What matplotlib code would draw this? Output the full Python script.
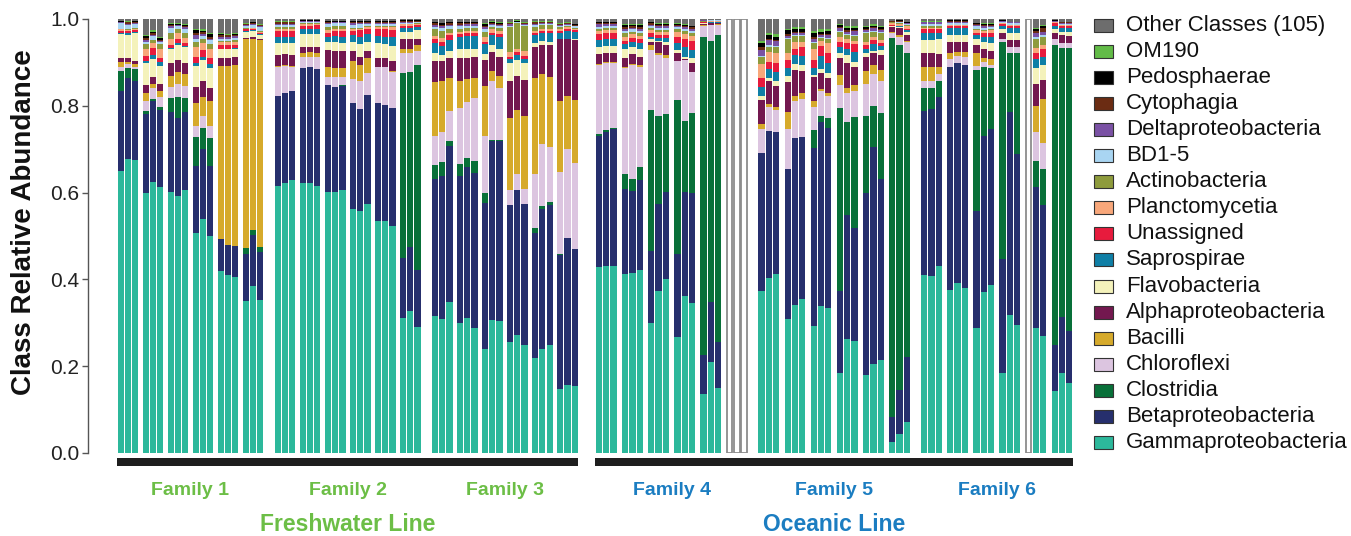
import matplotlib
matplotlib.use("Agg")
import matplotlib.pyplot as plt
from matplotlib.patches import Rectangle
import numpy as np

plt.rcParams['font.family'] = ['Liberation Sans', 'DejaVu Sans']

# ---------------------------------------------------------------------------
# Relative abundance per sample: 6 families x 6 groups x 3 replicates = 108
# (one line per family, 18 samples each)
# ---------------------------------------------------------------------------
gamma = [
    .650, .677, .674, .598, .624, .612, .602, .593, .606, .506, .539, .501, .420, .409, .406, .350, .385, .352,
    .616, .621, .629, .621, .623, .616, .601, .601, .606, .562, .558, .574, .535, .535, .523, .310, .328, .290,
    .316, .309, .347, .300, .310, .289, .240, .306, .303, .255, .272, .250, .218, .239, .249, .147, .157, .155,
    .429, .432, .432, .412, .414, .422, .299, .373, .401, .268, .362, .346, .135, .210, .150, 0, 0, 0,
    .373, .404, .412, .308, .341, .355, .293, .339, .335, .184, .262, .257, .180, .204, .214, .025, .044, .072,
    .410, .408, .432, .376, .392, .381, .287, .372, .386, .184, .318, .295, 0, .287, .270, .143, .184, .162,
]
beta = [
    .183, .186, .184, .183, .187, .178, .184, .180, .180, .155, .161, .160, .072, .070, .071, .109, .117, .112,
    .207, .208, .206, .265, .266, .268, .247, .243, .240, .244, .234, .251, .271, .267, .273, .139, .146, .132,
    .315, .330, .360, .339, .350, .357, .337, .414, .417, .316, .335, .323, .290, .323, .322, .309, .339, .315,
    .301, .308, .314, .196, .190, .207, .166, .200, .200, .190, .240, .252, .091, .137, .105, 0, 0, 0,
    .319, .339, .327, .346, .384, .374, .409, .423, .415, .189, .286, .262, .418, .500, .417, .059, .102, .150,
    .378, .385, .388, .513, .506, .513, .271, .359, .360, .262, .468, .394, 0, .325, .301, .106, .129, .118,
]
clostridia = [
    .047, .025, .027, .007, .005, .008, .033, .047, .031, .068, .048, .064, 0, 0, 0, .014, .012, .011,
    0, 0, 0, 0, 0, 0, 0, 0, .002, 0, 0, 0, 0, 0, 0, .427, .405, .472,
    .033, .032, .013, .026, .020, .027, .023, .002, .002, 0, 0, 0, .011, .007, .008, .002, 0, 0,
    .004, .004, .004, .034, .027, .031, .325, .204, .180, .355, .163, .185, .733, .603, .707, 0, 0, 0,
    0, 0, 0, 0, 0, 0, .042, .014, .021, .421, .214, .256, .178, .096, .152, .873, .795, .700,
    .052, .047, .038, 0, 0, 0, .324, .159, .142, .502, .136, .233, 0, .061, .083, .691, .621, .654,
]
chloroflexi = [
    .010, .008, .005, .024, .024, .022, .025, .030, .029, .024, .028, .028, 0, 0, 0, 0, 0, 0,
    .066, .063, .055, .027, .024, .029, .019, .023, .019, .055, .064, .051, .083, .087, .083, .045, .042, .033,
    .067, .069, .068, .129, .128, .144, .131, .134, .118, .035, .035, .035, .125, .142, .125, .190, .204, .199,
    .160, .154, .148, .244, .263, .230, .139, .140, .128, .091, .141, .096, .026, .036, .024, 0, 0, 0,
    .055, .054, .051, .092, .085, .087, .053, .058, .052, .054, .067, .060, .074, .073, .073, .010, .018, .024,
    .016, .016, .016, .018, .017, .019, .010, .010, .007, .007, .014, .014, 0, .067, .060, .013, .011, .011,
]
bacilli = [
    .010, .006, .007, .017, .010, .013, .025, .029, .027, .054, .045, .057, .400, .413, .417, .480, .441, .477,
    .003, .002, .002, .009, .011, .009, .022, .020, .020, .043, .038, .035, .001, .001, .001, .011, .011, .012,
    .123, .116, .075, .062, .053, .046, .115, .024, .029, .165, .148, .169, .219, .162, .163, .163, .123, .144,
    .002, .002, .002, .004, .002, .004, .011, .004, .008, 0, 0, 0, .002, .001, .003, 0, 0, 0,
    .010, .006, .008, .040, .013, .013, .015, .005, .006, .023, .011, .013, .030, .021, .026, .002, .004, .004,
    .033, .033, .016, .014, .008, .012, .030, .010, .012, 0, 0, 0, 0, .060, .102, 0, 0, 0,
]
alpha = [
    .010, .007, .006, .019, .017, .017, .030, .026, .026, .037, .035, .032, .019, .019, .019, .004, .004, .003,
    .025, .025, .025, .013, .011, .013, .040, .039, .039, .023, .018, .016, .021, .019, .023, .022, .022, .016,
    .050, .048, .046, .055, .050, .050, .060, .045, .044, .087, .079, .083, .073, .067, .073, .142, .130, .139,
    .023, .021, .021, .021, .023, .019, .008, .025, .023, .017, .002, .019, .002, .003, .001, 0, 0, 0,
    .056, .053, .048, .068, .059, .051, .055, .036, .034, .040, .058, .042, .033, .027, .035, .012, .016, .013,
    .032, .032, .029, .025, .023, .023, .018, .020, .019, .012, .016, .016, 0, .050, .043, .014, .018, .016,
]
flavobacteria = [
    .055, .054, .064, .050, .041, .042, .031, .034, .036, .048, .050, .044, .019, .019, .019, .014, .013, .008,
    .027, .025, .027, .030, .030, .030, .019, .022, .018, .021, .030, .021, .033, .033, .035, .017, .017, .020,
    .017, .013, .018, .019, .019, .019, .013, .015, .017, .040, .037, .038, .008, .010, .008, .002, .002, .002,
    .017, .017, .017, .020, .017, .019, .005, .004, .008, .008, .005, .011, .001, .001, .001, 0, 0, 0,
    .010, .007, .010, .015, .014, .014, .004, .009, .012, .010, .019, .012, .008, .006, .012, .002, .002, .008,
    .031, .031, .035, .017, .017, .015, .013, .018, .019, .009, .015, .015, 0, .036, .035, .010, .008, .008,
]
saprospirae = [
    .003, .004, .003, .005, .009, .008, .004, .005, .002, .006, .007, .010, .002, .002, .002, .002, .002, .002,
    .014, .014, .015, .011, .011, .011, .010, .013, .014, .015, .017, .018, .017, .017, .021, .009, .009, .006,
    .023, .021, .025, .029, .031, .029, .023, .023, .029, .010, .010, .010, .019, .017, .019, .013, .018, .016,
    .016, .015, .015, .011, .012, .012, .006, .006, .008, .015, .022, .020, .001, .001, .001, 0, 0, 0,
    .021, .021, .021, .019, .020, .021, .015, .031, .024, .015, .013, .023, .010, .015, .009, .002, .002, .004,
    .016, .016, .014, .016, .016, .016, .010, .011, .014, .008, .012, .012, 0, .021, .019, .008, .008, .010,
]
unassigned = [
    .004, .005, .004, .012, .017, .010, .006, .011, .008, .015, .016, .015, .008, .008, .007, .003, .003, .003,
    .015, .015, .014, .009, .009, .010, .010, .012, .014, .010, .015, .011, .015, .017, .016, .005, .005, .005,
    .009, .009, .011, .006, .006, .006, .006, .005, .006, .005, .007, .006, .004, .006, .006, .005, .004, .004,
    .013, .014, .014, .008, .009, .010, .008, .008, .008, .015, .018, .021, .001, .001, .001, 0, 0, 0,
    .019, .018, .021, .018, .016, .020, .020, .023, .023, .012, .014, .017, .009, .010, .006, .002, .002, .003,
    .008, .008, .008, .005, .005, .005, .005, .008, .009, .004, .005, .005, 0, .015, .018, .005, .005, .005,
]
planctomycetia = [
    .004, .003, .003, .015, .010, .020, .015, .012, .012, .023, .016, .021, .006, .006, .006, .002, .002, .003,
    .005, .005, .005, .004, .004, .003, .006, .005, .006, .005, .004, .004, .006, .006, .006, .003, .003, .003,
    .008, .010, .004, .005, .005, .005, .011, .008, .008, .010, .008, .013, .006, .005, .005, .005, .004, .004,
    .008, .008, .008, .009, .008, .007, .008, .007, .007, .012, .013, .010, .002, .002, .002, 0, 0, 0,
    .033, .023, .024, .016, .014, .012, .024, .012, .022, .011, .011, .008, .008, .006, .008, .003, .004, .005,
    .004, .004, .004, .002, .002, .002, .006, .006, .006, .002, .002, .002, 0, .012, .009, .002, .002, .002,
]
actinobacteria = [
    .002, .002, .002, .012, .008, .012, .012, .009, .011, .011, .008, .011, .004, .004, .004, .001, .001, .001,
    .004, .004, .004, .001, .001, .001, .008, .006, .006, .002, .002, .002, .002, .002, .002, .001, .001, .001,
    .015, .016, .009, .008, .008, .008, .012, .006, .007, .059, .059, .057, .009, .008, .008, .003, .002, .002,
    .005, .004, .004, .008, .006, .007, .004, .004, .004, .006, .006, .008, .001, .001, .001, 0, 0, 0,
    .017, .011, .013, .031, .015, .014, .014, .006, .010, .011, .008, .010, .019, .013, .015, .002, .002, .003,
    .004, .004, .004, .001, .001, .001, .004, .002, .002, .001, .001, .001, 0, .021, .019, .001, .001, .001,
]
bd1_5 = [
    .012, .010, .009, .005, .008, .004, .013, .008, .010, .008, .008, .008, .005, .005, .005, .005, .007, .010,
    .004, .004, .004, .003, .003, .003, .006, .006, .006, .006, .008, .005, .004, .004, .005, .002, .002, .002,
    .006, .006, .007, .005, .005, .005, .007, .004, .004, .003, .002, .003, .004, .003, .003, .003, .003, .003,
    .004, .004, .004, .006, .005, .005, .004, .005, .005, .004, .005, .005, .001, .001, .001, 0, 0, 0,
    .002, .004, .003, .004, .002, .002, .002, .002, .002, .002, .002, .002, .002, .002, .002, .001, .001, .002,
    .004, .004, .004, .004, .004, .004, .005, .005, .005, .002, .003, .003, 0, .004, .004, .001, .002, .002,
]
delta = [
    .002, .002, .002, .004, .004, .004, .004, .002, .004, .008, .005, .004, .004, .004, .004, .002, .002, .002,
    .003, .003, .003, .002, .002, .002, .003, .002, .002, .004, .003, .003, .003, .003, .003, .002, .002, .002,
    .004, .004, .004, .004, .003, .003, .004, .003, .003, .003, .001, .002, .003, .002, .002, .002, .002, .002,
    .006, .005, .005, .005, .004, .005, .004, .004, .004, .004, .004, .005, .001, 0, 0, 0, 0, 0,
    .014, .012, .011, .004, .004, .004, .008, .005, .007, .008, .006, .010, .006, .006, .006, .001, .002, .002,
    .004, .004, .004, .003, .003, .003, .003, .005, .004, .002, .002, .002, 0, .008, .008, .001, .002, .002,
]
cytophagia = [
    .002, .004, .004, .005, .003, .002, .002, .001, .002, .005, .003, .004, .004, .003, .003, .002, .002, .002,
    .004, .004, .004, .001, .001, .001, .003, .002, .002, .004, .003, .003, .003, .003, .003, .003, .003, .002,
    .004, .004, .003, .003, .002, .002, .003, .002, .002, .002, .001, .001, .003, .002, .002, .002, .002, .002,
    .003, .003, .003, .004, .003, .004, .003, .003, .003, .002, .002, .003, 0, 0, 0, 0, 0, 0,
    .006, .003, .003, .004, .003, .003, .004, .003, .003, .002, .003, .002, .002, .002, .002, .001, .001, .001,
    .001, .001, .001, .002, .002, .002, .002, .002, .002, .001, .001, .001, 0, .006, .008, .001, .001, .001,
]
pedosphaerae = [
    .001, .001, .001, .005, .004, .004, .002, .001, .002, .006, .003, .006, .002, .002, .002, .001, .001, .001,
    .001, .001, .001, .001, .001, .001, .001, .001, .001, .001, .001, .001, .001, .001, .001, .001, .001, .001,
    .003, .003, .002, .002, .002, .002, .003, .002, .002, .001, .001, .001, .002, .001, .001, .001, .001, .001,
    .002, .002, .002, .004, .004, .004, .002, .002, .002, .002, .004, .003, 0, 0, 0, 0, 0, 0,
    .010, .008, .007, .010, .006, .006, .009, .005, .006, .004, .006, .006, .004, .004, .005, .001, .002, .002,
    .001, .001, .001, .001, .001, .001, .002, .002, .002, .001, .001, .001, 0, .005, .005, .001, .001, .001,
]
om190 = [
    .001, .001, .001, .003, .003, .002, .002, .002, .002, .002, .004, .002, .002, .002, .002, .001, .001, .001,
    .001, .001, .001, 0, 0, 0, .001, .001, .001, .001, .001, .001, .001, .001, .001, 0, 0, 0,
    .001, .001, .002, .001, .001, .001, .002, .002, .002, .003, .002, .002, .001, .001, .001, .001, .001, .001,
    .001, .001, .001, .002, .002, .002, .001, .001, .001, .001, .001, .001, 0, 0, 0, 0, 0, 0,
    .005, .004, .006, .003, .006, .006, .006, .006, .005, .003, .004, .004, .004, .004, .003, 0, 0, 0,
    .001, .001, .001, 0, 0, 0, .001, .001, .001, 0, 0, 0, 0, .002, .002, 0, 0, 0,
]
other_classes = [
    .004, .005, .004, .036, .026, .042, .010, .010, .012, .024, .024, .033, .033, .034, .033, .010, .007, .012,
    .005, .005, .005, .003, .003, .003, .004, .004, .004, .004, .004, .004, .004, .004, .004, .003, .003, .003,
    .006, .009, .006, .007, .007, .007, .010, .005, .007, .006, .003, .007, .005, .005, .005, .010, .008, .011,
    .006, .006, .006, .012, .011, .012, .007, .010, .010, .010, .012, .015, .003, .003, .003, 0, 0, 0,
    .050, .033, .035, .022, .018, .018, .027, .023, .023, .011, .016, .016, .015, .011, .015, .004, .003, .007,
    .005, .005, .005, .003, .003, .003, .009, .010, .010, .003, .006, .006, 0, .020, .014, .003, .007, .007,
]

# Samples without sequencing data: (family, group, replicate), 1-based
missing_samples = [(4, 6, 1), (4, 6, 2), (4, 6, 3), (6, 5, 1)]

# Stack order, bottom to top
classes = [
    ("Gammaproteobacteria", gamma, "#2cb89b"),
    ("Betaproteobacteria", beta, "#262f6d"),
    ("Clostridia", clostridia, "#087039"),
    ("Chloroflexi", chloroflexi, "#dcc5e0"),
    ("Bacilli", bacilli, "#d6aa2b"),
    ("Alphaproteobacteria", alpha, "#73184f"),
    ("Flavobacteria", flavobacteria, "#f4f2bb"),
    ("Saprospirae", saprospirae, "#0f7fa6"),
    ("Unassigned", unassigned, "#e71b3d"),
    ("Planctomycetia", planctomycetia, "#f8a77a"),
    ("Actinobacteria", actinobacteria, "#8e9b3c"),
    ("BD1-5", bd1_5, "#a9d5f2"),
    ("Deltaproteobacteria", delta, "#7a51a4"),
    ("Cytophagia", cytophagia, "#6b2c13"),
    ("Pedosphaerae", pedosphaerae, "#000000"),
    ("OM190", om190, "#62bb47"),
    ("Other Classes (105)", other_classes, "#6d6d6d"),
]

family_names = ["Family 1", "Family 2", "Family 3", "Family 4", "Family 5", "Family 6"]
line_names = ["Freshwater Line", "Oceanic Line"]
line_colors = ["#6cbe46", "#1b7dc1"]

# ---------------------------------------------------------------------------
# Bar layout (gaps in bar-width units)
# ---------------------------------------------------------------------------
n_fam, n_grp, n_rep = 6, 6, 3
group_gaps = [0.45, 0.6]      # freshwater line, oceanic line
fam_gap, line_gap = 1.4, 2.35
lefts = []
fam_bounds = []
x = 0.0
for f in range(n_fam):
    if f > 0:
        x += line_gap if f == 3 else fam_gap
    gg = group_gaps[0 if f < 3 else 1]
    start = x
    for g in range(n_grp):
        if g > 0:
            x += gg
        for r in range(n_rep):
            lefts.append(x)
            x += 1.0
    fam_bounds.append((start, x))
lefts = np.array(lefts)
centers = lefts + 0.5
bar_w = 0.86

W, H = 1351, 536
fig = plt.figure(figsize=(W / 100, H / 100), dpi=100)
ax = fig.add_axes([117 / W, (H - 453) / H, (1073 - 117) / W, (453 - 19) / H])

bottom = np.zeros(len(lefts))
for name, vals, col in classes:
    v = np.array(vals, dtype=float)
    ax.bar(centers, v, bottom=bottom, width=bar_w, color=col, linewidth=0)
    bottom += v

for (f, g, r) in missing_samples:
    i = (f - 1) * n_grp * n_rep + (g - 1) * n_rep + (r - 1)
    ax.bar(centers[i], 1.0, width=bar_w - 0.1, facecolor="white",
           edgecolor="#8c8c8c", linewidth=1.3)

ax.set_xlim(0, x)
ax.set_ylim(0, 1)

# Axis styling
for s in ["top", "right", "bottom"]:
    ax.spines[s].set_visible(False)
ax.spines["left"].set_position(("outward", 21))
ax.spines["left"].set_bounds(0, 1)
ax.spines["left"].set_color("#555555")
ax.spines["left"].set_linewidth(1.0)
ax.set_xticks([])
ax.set_yticks([0, 0.2, 0.4, 0.6, 0.8, 1.0])
ax.set_yticklabels(["0.0", "0.2", "0.4", "0.6", "0.8", "1.0"])
ax.tick_params(axis="y", length=4, width=1.0, color="#555555", pad=2,
               labelsize=15, labelcolor="#222222")

fig.text(24 / W, (H - 222) / H, "Class Relative Abundance", rotation=90,
         ha="center", va="center", fontsize=20, fontweight="bold", color="#111111")

# Line bars and labels underneath
line_spans = [(fam_bounds[0][0], fam_bounds[2][1]), (fam_bounds[3][0], fam_bounds[5][1])]
for k, (x0, x1) in enumerate(line_spans):
    ax.add_patch(Rectangle((x0, -0.030), x1 - x0, 0.0185, facecolor="#1e1e1e",
                           edgecolor="none", clip_on=False))
    ax.text((x0 + x1) / 2, -0.165, line_names[k], ha="center", va="center",
            fontsize=16.5, fontweight="bold", color=line_colors[k])
for f in range(n_fam):
    x0, x1 = fam_bounds[f]
    ax.text((x0 + x1) / 2, -0.087, family_names[f], ha="center", va="center",
            fontsize=14, fontweight="bold", color=line_colors[0 if f < 3 else 1])

# Legend (top entry = top of stack)
y0, dy = 25, 26.1
for i, (name, vals, col) in enumerate(classes[::-1]):
    yc = y0 + i * dy
    fig.add_artist(Rectangle((1094 / W, (H - yc - 6.5) / H), 19 / W, 13 / H,
                             facecolor=col, edgecolor="#333333", linewidth=0.8,
                             transform=fig.transFigure))
    fig.text(1126 / W, (H - yc) / H, name, ha="left", va="center",
             fontsize=16, color="#111111")

fig.savefig("out.png", dpi=100)
